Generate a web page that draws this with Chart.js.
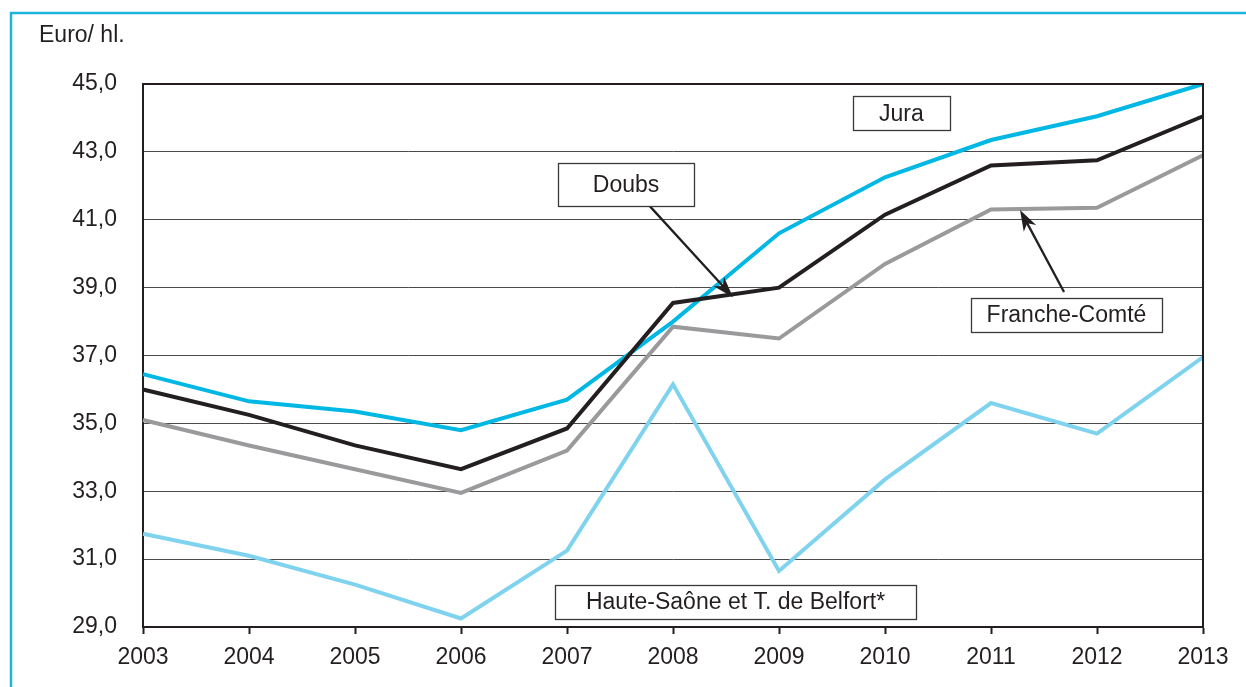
<!DOCTYPE html>
<html>
<head>
<meta charset="utf-8">
<script src="https://cdn.jsdelivr.net/npm/chart.js@4/dist/chart.umd.min.js"></script>
<style>
  html, body { margin: 0; padding: 0; background: #fff; }
  canvas { display: block; }
</style>
</head>
<body>
<canvas id="myChart" width="1246" height="687"></canvas>
<script>
// data (Euro / hl)
const years = ['2003', '2004', '2005', '2006', '2007', '2008', '2009', '2010', '2011', '2012', '2013'];
const jura = [36.45, 35.65, 35.35, 34.8, 35.7, 38.0, 40.6, 42.25, 43.35, 44.05, 45.0];
const doubs = [36.0, 35.25, 34.35, 33.65, 34.85, 38.55, 39.0, 41.15, 42.6, 42.75, 44.05];
const francheComte = [35.1, 34.35, 33.65, 32.95, 34.2, 37.85, 37.5, 39.7, 41.3, 41.35, 42.9];
const hauteSaone = [31.75, 31.1, 30.25, 29.25, 31.25, 36.15, 30.65, 33.35, 35.6, 34.7, 36.95];
const yTicks = [29, 31, 33, 35, 37, 39, 41, 43, 45];

const FONT = '"Liberation Sans", Arial, sans-serif';
const INK = '#231f20';

// callout boxes, placed in data units (x = year index, y = value)
const callouts = [
    { text: 'Jura', x: 7.155, y: 44.14, w: 97, h: 34 },
    { text: 'Doubs', x: 4.557, y: 42.04, w: 136, h: 43 },
    { text: 'Franche-Comté', x: 8.712, y: 38.19, w: 191, h: 34 },
    { text: 'Haute-Saône et T. de Belfort*', x: 5.59, y: 29.74, w: 361, h: 34 }
];
const arrows = [
    { from: [4.755, 41.49], to: [5.566, 38.72] },
    { from: [8.689, 38.87], to: [8.274, 41.29] }
];

const framePlugin = {
    id: 'frame',
    beforeDraw(chart) {
        const ctx = chart.ctx;
        ctx.save();
        ctx.strokeStyle = '#1cb3dc';
        ctx.lineWidth = 2.5;
        ctx.beginPath();
        ctx.moveTo(11, 687);
        ctx.lineTo(11, 13);
        ctx.lineTo(1246, 13);
        ctx.stroke();
        ctx.fillStyle = INK;
        ctx.font = '23px ' + FONT;
        ctx.textBaseline = 'alphabetic';
        ctx.fillText('Euro/ hl.', 39, 42);
        ctx.restore();
    },
    afterDatasetsDraw(chart) {
        const ctx = chart.ctx;
        const a = chart.chartArea;
        const xs = chart.scales.x;
        const ys = chart.scales.y;
        ctx.save();
        // top and right edges of the plot
        ctx.strokeStyle = INK;
        ctx.lineWidth = 2;
        ctx.beginPath();
        ctx.moveTo(a.left, a.top);
        ctx.lineTo(a.right, a.top);
        ctx.lineTo(a.right, a.bottom);
        ctx.stroke();

        // arrows
        arrows.forEach(ar => {
            const x0 = xs.getPixelForValue(ar.from[0]);
            const y0 = ys.getPixelForValue(ar.from[1]);
            const x1 = xs.getPixelForValue(ar.to[0]);
            const y1 = ys.getPixelForValue(ar.to[1]);
            const ang = Math.atan2(y1 - y0, x1 - x0);
            const c = Math.cos(ang), s = Math.sin(ang);
            const len = 21, half = 7;
            ctx.strokeStyle = INK;
            ctx.fillStyle = INK;
            ctx.lineWidth = 2.3;
            ctx.beginPath();
            ctx.moveTo(x0, y0);
            ctx.lineTo(x1 - c * len * 0.7, y1 - s * len * 0.7);
            ctx.stroke();
            ctx.beginPath();
            ctx.moveTo(x1, y1);
            ctx.lineTo(x1 - c * len + s * half, y1 - s * len - c * half);
            ctx.lineTo(x1 - c * len * 0.72, y1 - s * len * 0.72);
            ctx.lineTo(x1 - c * len - s * half, y1 - s * len + c * half);
            ctx.closePath();
            ctx.fill();
        });

        // label boxes
        ctx.font = '23px ' + FONT;
        ctx.textAlign = 'center';
        ctx.textBaseline = 'middle';
        callouts.forEach(cb => {
            const cx = xs.getPixelForValue(cb.x);
            const cy = ys.getPixelForValue(cb.y);
            const l = Math.round(cx - cb.w / 2) + 0.5;
            const t = Math.round(cy - cb.h / 2) + 0.5;
            ctx.fillStyle = '#fff';
            ctx.fillRect(l, t, cb.w, cb.h);
            ctx.strokeStyle = '#3a3a3a';
            ctx.lineWidth = 1.3;
            ctx.strokeRect(l, t, cb.w, cb.h);
            ctx.fillStyle = INK;
            ctx.fillText(cb.text, cx, cy + 1);
        });
        ctx.restore();
    }
};

function series(label, data, color) {
    return {
        label: label,
        data: data,
        borderColor: color,
        backgroundColor: color,
        borderWidth: 4,
        pointRadius: 0,
        tension: 0,
        borderJoinStyle: 'miter',
        fill: false
    };
}

const config = {
    type: 'line',
    data: {
        labels: years,
        datasets: [
            series('Doubs', doubs, INK),
            series('Jura', jura, '#00b8e3'),
            series('Franche-Comté', francheComte, '#9a9a9c'),
            series('Haute-Saône et T. de Belfort*', hauteSaone, '#7fd3ee')
        ]
    },
    options: {
        responsive: false,
        animation: false,
        devicePixelRatio: 1,
        layout: { padding: { top: 84, right: 43, bottom: 0, left: 0 } },
        plugins: {
            legend: { display: false },
            title: { display: false },
            tooltip: { enabled: false }
        },
        scales: {
            x: {
                type: 'category',
                offset: false,
                afterFit: (scale) => { scale.height = 60; },
                grid: {
                    drawOnChartArea: false,
                    drawTicks: true,
                    tickLength: 7,
                    tickColor: INK,
                    tickWidth: 2
                },
                border: { color: INK, width: 2 },
                ticks: {
                    color: INK,
                    padding: 10,
                    maxRotation: 0,
                    autoSkip: false,
                    font: { family: FONT, size: 23 }
                }
            },
            y: {
                min: 29,
                max: 45,
                afterFit: (scale) => { scale.width = 143; },
                afterBuildTicks: (scale) => {
                    scale.ticks = yTicks.map(v => ({ value: v }));
                },
                grid: {
                    drawTicks: false,
                    color: (c) => c.tick && c.tick.value === 45 ? INK : '#4a4a4a',
                    lineWidth: (c) => c.tick && c.tick.value === 45 ? 2 : 1
                },
                border: { color: INK, width: 2 },
                ticks: {
                    color: INK,
                    padding: 26,
                    font: { family: FONT, size: 23 },
                    callback: (v) => v.toFixed(1).replace('.', ',')
                }
            }
        }
    },
    plugins: [framePlugin]
};

window.myChart = new Chart(document.getElementById('myChart').getContext('2d'), config);
</script>
</body>
</html>
